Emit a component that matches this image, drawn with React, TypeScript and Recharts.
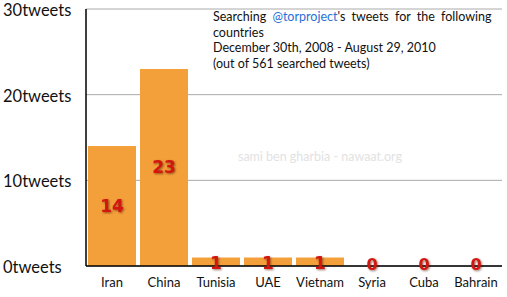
import React from "react";
import { ComposedChart, Bar, Line, XAxis, YAxis, CartesianGrid, LabelList } from "recharts";

const countries = ["Iran", "China", "Tunisia", "UAE", "Vietnam", "Syria", "Cuba", "Bahrain"];
const tweets = [14, 23, 1, 1, 1, 0, 0, 0];
const yTicks = [0, 10, 20, 30];
const titleLines = [
  "countries",
  "December 30th, 2008 - August 29, 2010",
  "(out of 561 searched tweets)",
];

const data = countries.map((c, i) => ({ country: c, tweets: tweets[i] }));
const FONT = "Lato, 'Open Sans', sans-serif";

const YTick = (props: any) => {
  const { y, payload } = props;
  return (
    <text x={3} y={y} dy={7} textAnchor="start" fontFamily={FONT} fontSize={16.5} fill="#111">
      {payload.value}tweets
    </text>
  );
};

const XTick = (props: any) => {
  const { x, y, payload } = props;
  return (
    <text x={x} y={y} dy={13} textAnchor="middle" fontFamily={FONT} fontSize={13} fill="#111">
      {payload.value}
    </text>
  );
};

const labelStyle = { filter: "drop-shadow(1px 1px 1px rgba(80,20,0,0.6))" };

const ValueLabel = (props: any) => {
  const { x, y, width, height, value } = props;
  if (!value) return null;
  const cx = x + width / 2;
  const cy = value === 1 ? y + height / 2 + 1 : y + height / 2;
  return (
    <text
      x={cx}
      y={cy}
      dy={6}
      textAnchor="middle"
      fontFamily="'DejaVu Sans', sans-serif"
      fontWeight={900}
      fontSize={17}
      fill="#d4160e"
      style={labelStyle}
    >
      {value}
    </text>
  );
};

const ZeroLabel = (props: any) => {
  const { x, y, value } = props;
  if (value !== 0) return null;
  return (
    <text
      x={x}
      y={y - 2}
      dy={6}
      textAnchor="middle"
      fontFamily="'DejaVu Sans', sans-serif"
      fontWeight={900}
      fontSize={16}
      fill="#d4160e"
      style={labelStyle}
    >
      {value}
    </text>
  );
};

export default function App() {
  return (
    <div style={{ position: "absolute", left: 0, top: 0, width: 507, height: 297, background: "#fff" }}>
      <ComposedChart
        width={507}
        height={297}
        data={data}
        margin={{ top: 9, right: 5, bottom: 0, left: 0 }}
        barCategoryGap={2}
      >
        <CartesianGrid horizontal vertical={false} stroke="#aaa" />
        <XAxis
          dataKey="country"
          tick={<XTick />}
          tickLine={false}
          axisLine={{ stroke: "#000", strokeWidth: 1.5 }}
          height={31}
          interval={0}
        />
        <XAxis
          xAxisId="top"
          orientation="top"
          dataKey="country"
          tick={false}
          tickLine={false}
          axisLine={{ stroke: "#000", strokeWidth: 1.5 }}
          height={0}
        />
        <YAxis
          domain={[0, 30]}
          ticks={yTicks}
          tick={<YTick />}
          tickLine={false}
          axisLine={{ stroke: "#000", strokeWidth: 1.5 }}
          width={86}
        />
        <YAxis
          yAxisId="right"
          orientation="right"
          domain={[0, 30]}
          tick={false}
          tickLine={false}
          axisLine={{ stroke: "#000", strokeWidth: 1.5 }}
          width={0}
        />
        <Bar dataKey="tweets" fill="#f4a03a" isAnimationActive={false}>
          <LabelList dataKey="tweets" content={<ValueLabel />} />
        </Bar>
        <Line
          dataKey="tweets"
          stroke="none"
          dot={false}
          activeDot={false}
          isAnimationActive={false}
        >
          <LabelList dataKey="tweets" content={<ZeroLabel />} />
        </Line>
      </ComposedChart>
      <div
        style={{
          position: "absolute",
          left: 0,
          top: 149,
          width: 640,
          textAlign: "center",
          fontFamily: FONT,
          fontSize: 12.5,
          color: "#e2e2e2",
        }}
      >
        sami ben gharbia - nawaat.org
      </div>
      <div
        style={{
          position: "absolute",
          left: 213,
          top: 9,
          fontFamily: FONT,
          fontSize: 12.5,
          lineHeight: "15.5px",
          color: "#111",
        }}
      >
        <div style={{ wordSpacing: 3 }}>
          Searching <span style={{ color: "#2a6fd6" }}>@torproject</span>'s tweets for the following
        </div>
        {titleLines.map((l) => (
          <div key={l}>{l}</div>
        ))}
      </div>
    </div>
  );
}
